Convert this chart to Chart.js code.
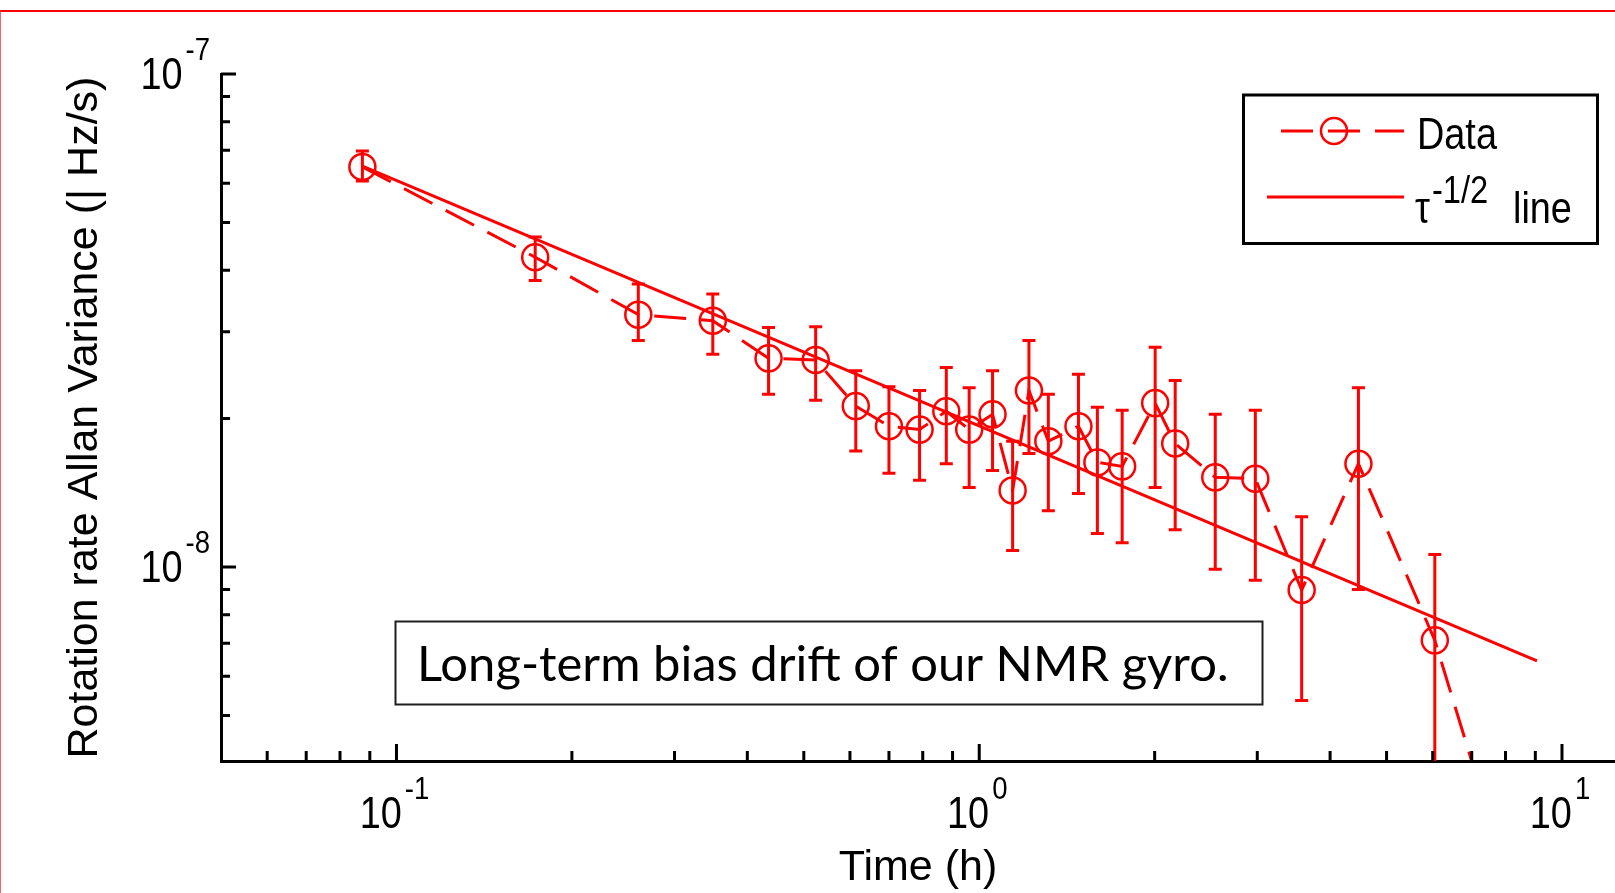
<!doctype html>
<html lang="en">
<head>
<meta charset="utf-8">
<title>NMR gyro - rotation rate Allan variance</title>
<script src="https://cdn.jsdelivr.net/npm/chart.js@4.4.1/dist/chart.umd.min.js"></script>
<style>
  html, body { margin: 0; padding: 0; background: #fff; }
  body { width: 1615px; height: 893px; overflow: hidden; position: relative; }
  .frame {
    position: absolute; left: 0; top: 10px; right: 0; bottom: 0;
    border-top: 2px solid #ff0000; border-left: 1px solid #ff6464;
  }
  #gyro { position: absolute; left: 0; top: 0; }
</style>
</head>
<body>
<div class="frame"></div>
<canvas id="gyro" width="1615" height="893"></canvas>

<script>
// averaging time (h) and Allan deviation
const xTime = [0.0874, 0.173, 0.260, 0.349, 0.435, 0.524, 0.614, 0.700, 0.790, 0.878,
               0.961, 1.054, 1.141, 1.217, 1.314, 1.480, 1.595, 1.759, 2.004, 2.169,
               2.541, 2.977, 3.575, 4.474, 6.05, 8.05];
const yAllan = [6.48e-8, 4.25e-8, 3.25e-8, 3.16e-8, 2.65e-8, 2.63e-8, 2.12e-8, 1.93e-8, 1.90e-8, 2.07e-8,
                1.90e-8, 2.04e-8, 1.43e-8, 2.28e-8, 1.80e-8, 1.93e-8, 1.63e-8, 1.60e-8, 2.15e-8, 1.78e-8,
                1.52e-8, 1.51e-8, 8.98e-9, 1.62e-8, 7.10e-9, 2.35e-9];
// error bar ends
const errUpper = [6.98e-8, 4.67e-8, 3.75e-8, 3.58e-8, 3.06e-8, 3.07e-8, 2.50e-8, 2.32e-8, 2.28e-8, 2.54e-8,
                  2.31e-8, 2.50e-8, 1.80e-8, 2.88e-8, 2.24e-8, 2.46e-8, 2.11e-8, 2.08e-8, 2.79e-8, 2.39e-8,
                  2.04e-8, 2.08e-8, 1.265e-8, 2.31e-8, 1.06e-8, null];
const errLower = [6.07e-8, 3.81e-8, 2.88e-8, 2.70e-8, 2.24e-8, 2.18e-8, 1.72e-8, 1.55e-8, 1.50e-8, 1.62e-8,
                  1.45e-8, 1.57e-8, 1.08e-8, 1.70e-8, 1.30e-8, 1.41e-8, 1.17e-8, 1.12e-8, 1.45e-8, 1.19e-8,
                  9.9e-9, 9.4e-9, 5.36e-9, 9.0e-9, 3.6e-9, null];

// tau^-1/2 reference line end points
const fitX = [0.0874, 9.06];
const fitY = [6.5e-8, 6.45e-9];

// axis ticks
const xMajorTicks = [0.1, 1, 10];
const xTickExp = ['-1', '0', '1'];
const xMinorTicks = [0.06, 0.07, 0.08, 0.09, 0.2, 0.3, 0.4, 0.5, 0.6, 0.7, 0.8, 0.9, 2, 3, 4, 5, 6, 7, 8, 9];
const yMajorTicks = [1e-7, 1e-8];
const yTickExp = ['-7', '-8'];
const yMinorTicks = [5e-9, 6e-9, 7e-9, 8e-9, 9e-9, 2e-8, 3e-8, 4e-8, 5e-8, 6e-8, 7e-8, 8e-8, 9e-8];

const fitLegend = ['\u03C4', '-1/2', 'line'];
const noteText = 'Long-term bias drift of our NMR gyro.';

const RED = '#ff0000';
const AXIS_FONT = '"Liberation Sans", Arial, sans-serif';
const SQ = 0.86;   // the old figure font is a bit narrow

function putText(ctx, text, x, y, size, align, family, squeeze) {
  ctx.save();
  ctx.font = size + 'px ' + family;
  const w = ctx.measureText(text).width * squeeze;
  const left = align === 'right' ? x - w : (align === 'center' ? x - w / 2 : x);
  ctx.translate(left, y);
  ctx.scale(squeeze, 1);
  ctx.textAlign = 'left';
  ctx.textBaseline = 'alphabetic';
  ctx.fillStyle = '#000';
  ctx.fillText(text, 0, 0);
  ctx.restore();
  return w;
}

function widthOf(ctx, text, size) {
  ctx.save();
  ctx.font = size + 'px ' + AXIS_FONT;
  const w = ctx.measureText(text).width * SQ;
  ctx.restore();
  return w;
}

const errorBars = {
  id: 'errorBars',
  afterDatasetsDraw(chart) {
    const {ctx, chartArea: a, scales: {x, y}} = chart;
    ctx.save();
    ctx.beginPath();
    ctx.rect(a.left, a.top, a.right - a.left, a.bottom - a.top);
    ctx.clip();
    ctx.strokeStyle = RED;
    ctx.lineWidth = 3;
    xTime.forEach((t, i) => {
      if (errUpper[i] == null) return;
      const px = x.getPixelForValue(t);
      const top = y.getPixelForValue(errUpper[i]);
      const bot = y.getPixelForValue(errLower[i]);
      ctx.beginPath();
      ctx.moveTo(px, top); ctx.lineTo(px, bot);
      ctx.moveTo(px - 6.5, top); ctx.lineTo(px + 6.5, top);
      ctx.moveTo(px - 6.5, bot); ctx.lineTo(px + 6.5, bot);
      ctx.stroke();
    });
    ctx.restore();
  }
};

const decorations = {
  id: 'decorations',
  afterDraw(chart) {
    const {ctx, chartArea: a, scales: {x, y}} = chart;
    ctx.save();

    // inward tick marks
    ctx.strokeStyle = '#000';
    ctx.lineWidth = 3;
    ctx.beginPath();
    xMajorTicks.concat(xMinorTicks).forEach(v => {
      const px = x.getPixelForValue(v);
      const len = xMajorTicks.includes(v) ? 17 : 10;
      ctx.moveTo(px, a.bottom); ctx.lineTo(px, a.bottom - len);
    });
    yMajorTicks.concat(yMinorTicks).forEach(v => {
      const py = y.getPixelForValue(v);
      const len = yMajorTicks.includes(v) ? 15 : 9;
      ctx.moveTo(a.left, py); ctx.lineTo(a.left + len, py);
    });
    ctx.stroke();

    // 10^n labels
    xMajorTicks.forEach((v, i) => {
      const px = x.getPixelForValue(v);
      const wb = widthOf(ctx, '10', 44);
      const we = widthOf(ctx, xTickExp[i], 32);
      const left = px - (wb + 3 + we) / 2 - 2;
      const base = a.bottom + 67;
      putText(ctx, '10', left, base, 44, 'left', AXIS_FONT, SQ);
      putText(ctx, xTickExp[i], left + wb + 3, base - 29, 32, 'left', AXIS_FONT, SQ);
    });
    yMajorTicks.forEach((v, i) => {
      const py = y.getPixelForValue(v);
      const right = a.left - 11;
      const we = widthOf(ctx, yTickExp[i], 32);
      putText(ctx, yTickExp[i], right, py - 14, 32, 'right', AXIS_FONT, SQ);
      putText(ctx, '10', right - we - 3, py + 15, 44, 'right', AXIS_FONT, SQ);
    });

    // legend box
    const ds = chart.data.datasets;
    ctx.strokeStyle = '#000';
    ctx.lineWidth = 3;
    ctx.strokeRect(1243.5, 95, 354, 148.5);

    ctx.strokeStyle = ds[0].borderColor;
    ctx.lineWidth = ds[0].borderWidth;
    ctx.setLineDash(ds[0].borderDash);
    ctx.beginPath();
    ctx.moveTo(1281, 131); ctx.lineTo(1404, 131);
    ctx.stroke();
    ctx.setLineDash([]);
    ctx.lineWidth = ds[0].pointBorderWidth;
    ctx.beginPath();
    ctx.arc(1334, 131, ds[0].pointRadius, 0, Math.PI * 2);
    ctx.stroke();
    putText(ctx, ds[0].label, 1417, 149, 44, 'left', AXIS_FONT, SQ);

    ctx.strokeStyle = ds[1].borderColor;
    ctx.lineWidth = ds[1].borderWidth;
    ctx.beginPath();
    ctx.moveTo(1267, 197); ctx.lineTo(1404, 197);
    ctx.stroke();
    const wt = putText(ctx, fitLegend[0], 1415, 223, 44, 'left', AXIS_FONT, SQ);
    putText(ctx, fitLegend[1], 1415 + wt + 2, 203, 38, 'left', AXIS_FONT, SQ);
    putText(ctx, fitLegend[2], 1513, 223, 44, 'left', AXIS_FONT, SQ);

    // annotation box
    ctx.strokeStyle = '#1e1e1e';
    ctx.lineWidth = 2;
    ctx.strokeRect(395.5, 621.5, 867, 83);
    putText(ctx, noteText, 417, 681, 48, 'left', 'Lato, "Open Sans", sans-serif', 1.02);

    ctx.restore();
  }
};

Chart.defaults.font.family = AXIS_FONT;
Chart.defaults.color = '#000';

new Chart(document.getElementById('gyro'), {
  type: 'line',
  data: {
    datasets: [{
      label: 'Data',
      data: xTime.map((t, i) => ({x: t, y: yAllan[i]})),
      borderColor: RED,
      borderWidth: 3,
      borderDash: [32, 15],
      pointStyle: 'circle',
      pointRadius: 13,
      pointBorderWidth: 2.5,
      pointBorderColor: RED,
      pointBackgroundColor: 'rgba(0,0,0,0)',
      tension: 0,
      clip: 0
    }, {
      label: '\u03C4\u207B\u00B9\u141F\u00B2 line',
      data: fitX.map((t, i) => ({x: t, y: fitY[i]})),
      borderColor: RED,
      borderWidth: 3,
      pointRadius: 0,
      tension: 0,
      clip: 0
    }]
  },
  options: {
    responsive: false,
    animation: false,
    devicePixelRatio: 1,
    layout: { autoPadding: false, padding: { left: 20, top: 74, right: 0, bottom: 0 } },
    plugins: {
      legend: { display: false },
      tooltip: { enabled: false }
    },
    scales: {
      x: {
        type: 'logarithmic',
        min: 0.05,
        max: 12.33,
        grid: { display: false, drawTicks: false },
        border: { display: true, color: '#000', width: 3 },
        ticks: { display: false },
        title: {
          display: true,
          text: 'Time (h)',
          color: '#000',
          font: { size: 43, lineHeight: 1.15 },
          padding: { top: 82.5, bottom: 0 }
        }
      },
      y: {
        type: 'logarithmic',
        min: 4.04e-9,
        max: 1e-7,
        grid: { display: false, drawTicks: false },
        border: { display: true, color: '#000', width: 3 },
        ticks: { display: false },
        title: {
          display: true,
          text: 'Rotation rate Allan Variance (| Hz/s)',
          color: '#000',
          font: { size: 43, lineHeight: 1.15 },
          padding: { top: 40.4, bottom: 111.2 }
        }
      }
    }
  },
  plugins: [errorBars, decorations]
});
</script>
</body>
</html>
